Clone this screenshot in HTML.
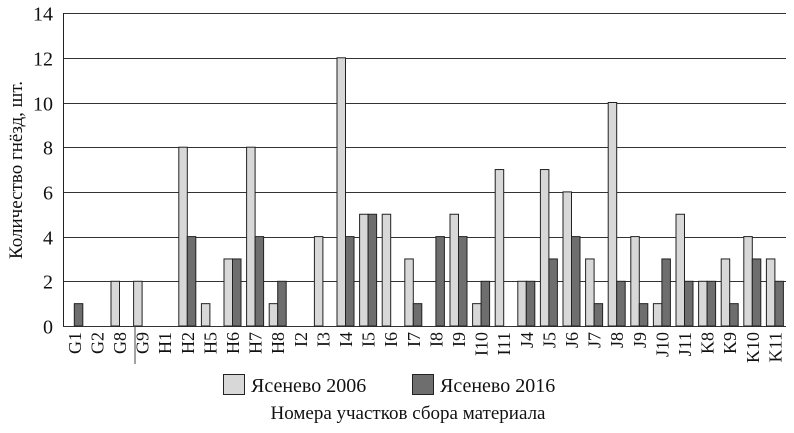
<!DOCTYPE html>
<html><head><meta charset="utf-8"><style>
html,body{margin:0;padding:0;background:#fff;}
svg{display:block;font-family:"Liberation Serif",serif;}
</style></head><body>
<svg width="794" height="433" viewBox="0 0 794 433" xmlns="http://www.w3.org/2000/svg">
<g id="grid" stroke="#333" stroke-width="1"></g>
<g id="bars" stroke="#222" stroke-width="1"></g>
<g id="ticks" font-size="20" fill="#111" text-anchor="end"></g>
<g id="labels" font-size="18" fill="#111"></g>
<line x1="63.5" y1="13" x2="63.5" y2="326" stroke="#222"/>
<line x1="135" y1="326" x2="135" y2="364" stroke="#444"/>
<text transform="translate(22,170) rotate(-90)" text-anchor="middle" font-size="19" fill="#111">Количество гнёзд, шт.</text>
<rect x="223.5" y="374.5" width="21" height="20" fill="#d8d8d8" stroke="#222"/>
<text x="251" y="392" font-size="20" fill="#111">Ясенево 2006</text>
<rect x="412.5" y="374.5" width="21" height="20" fill="#6e6e6e" stroke="#222"/>
<text x="440" y="392" font-size="20" fill="#111">Ясенево 2016</text>
<text x="408" y="419" text-anchor="middle" font-size="19" fill="#111">Номера участков сбора материала</text>
</svg>
<script>
const ns="http://www.w3.org/2000/svg";
const cats=["G1","G2","G8","G9","H1","H2","H5","H6","H7","H8","I2","I3","I4","I5","I6","I7","I8","I9","I10","I11","J4","J5","J6","J7","J8","J9","J10","J11","K8","K9","K10","K11"];
const a=[0,0,2,2,0,8,1,3,8,1,0,4,12,5,5,3,0,5,1,7,2,7,6,3,10,4,1,5,2,3,4,3];
const b=[1,0,0,0,0,4,0,3,4,2,0,0,4,5,0,1,4,4,2,0,2,3,4,1,2,1,3,2,2,1,3,2];
const y0=326,u=22.35,x0=63,cw=22.6;
function el(t,at,p){const e=document.createElementNS(ns,t);for(const k in at)e.setAttribute(k,at[k]);p.appendChild(e);return e;}
const g=document.getElementById("grid"),br=document.getElementById("bars"),tk=document.getElementById("ticks"),lb=document.getElementById("labels");
for(let v=0;v<=14;v+=2){const y=Math.round(y0-v*u)+0.5;el("line",{x1:63,x2:786,y1:y,y2:y},g);const t=el("text",{x:53,y:y+7},tk);t.textContent=v;}
cats.forEach((c,i)=>{const cx=x0+cw*(i+0.5);
if(a[i])el("rect",{x:cx-8.5,y:y0-a[i]*u,width:8.5,height:a[i]*u,fill:"#d8d8d8"},br);
if(b[i])el("rect",{x:cx,y:y0-b[i]*u,width:8.5,height:b[i]*u,fill:"#6e6e6e"},br);
const t=el("text",{transform:`translate(${cx+6.5},332) rotate(-90)`,"text-anchor":"end"},lb);t.textContent=c;});
</script>
</body></html>
